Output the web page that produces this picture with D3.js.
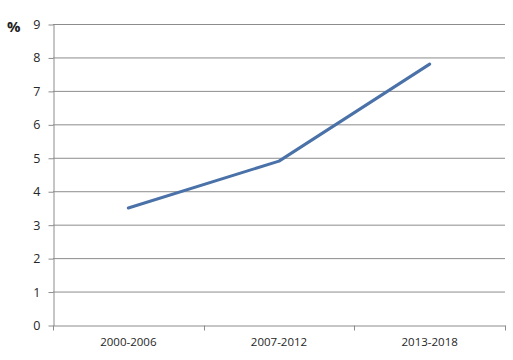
<!DOCTYPE html>
<html>
<head>
<meta charset="utf-8">
<script src="https://cdn.jsdelivr.net/npm/d3@7"></script>
<style>
  body { margin: 0; background: #fff; }
  text { font-family: "Open Sans", "Liberation Sans", sans-serif; fill: #333; }
</style>
</head>
<body>
<div id="chart"></div>
<script>
// chart data
var periods = ["2000-2006", "2007-2012", "2013-2018"];
var rates = [3.5, 4.9, 7.8];
var yTicks = [0, 1, 2, 3, 4, 5, 6, 7, 8, 9];

var W = 513, H = 360;
var margin = {top: 24, right: 8, bottom: 35, left: 53};

var svg = d3.select("#chart").append("svg")
  .attr("width", W)
  .attr("height", H);

var x = d3.scaleBand()
  .domain(periods)
  .range([margin.left, W - margin.right]);

var y = d3.scaleLinear()
  .domain([0, 9])
  .range([H - margin.bottom, margin.top]);

// gridlines
svg.append("g")
  .selectAll("line")
  .data(yTicks.slice(1))
  .enter().append("line")
  .attr("x1", margin.left)
  .attr("x2", W - margin.right)
  .attr("y1", function (d) { return y(d) + 0.5; })
  .attr("y2", function (d) { return y(d) + 0.5; })
  .style("stroke", "#8c8c8c")
  .style("stroke-width", 1);

// y axis
var yAxis = svg.append("g")
  .attr("transform", "translate(" + (margin.left + 0.5) + ",0.5)")
  .call(d3.axisLeft(y).tickValues(yTicks).tickSize(5).tickSizeOuter(0).tickPadding(8));
yAxis.select(".domain").style("stroke", "#8c8c8c");
yAxis.selectAll(".tick line").style("stroke", "#8c8c8c");
yAxis.selectAll("text").style("font-size", "12.5px").style("fill", "#262626");

// x axis: ticks at the band boundaries
var xAxis = svg.append("g")
  .attr("transform", "translate(0," + (y(0) + 0.5) + ")")
  .call(d3.axisBottom(x).tickSize(0).tickPadding(12));
xAxis.select(".domain").style("stroke", "#8c8c8c");
xAxis.selectAll("text").style("font-size", "11.5px").style("fill", "#262626");

xAxis.selectAll(".bound")
  .data(periods.concat(["end"]))
  .enter().append("line")
  .attr("class", "bound")
  .attr("x1", function (d, i) { return Math.round(margin.left + i * x.bandwidth()) + 0.5; })
  .attr("x2", function (d, i) { return Math.round(margin.left + i * x.bandwidth()) + 0.5; })
  .attr("y1", 0)
  .attr("y2", 5)
  .style("stroke", "#8c8c8c");

// percent label
svg.append("text")
  .attr("x", 7)
  .attr("y", 32)
  .style("font-size", "15px")
  .style("font-weight", "bold")
  .style("fill", "#222")
  .text("%");

// the line
var line = d3.line()
  .x(function (d, i) { return x(periods[i]) + x.bandwidth() / 2; })
  .y(function (d) { return y(d); });

svg.append("path")
  .datum(rates)
  .attr("d", line)
  .style("fill", "none")
  .style("stroke", "#4a72a8")
  .style("stroke-width", 3)
  .style("stroke-linejoin", "round")
  .style("stroke-linecap", "round");
</script>
</body>
</html>
